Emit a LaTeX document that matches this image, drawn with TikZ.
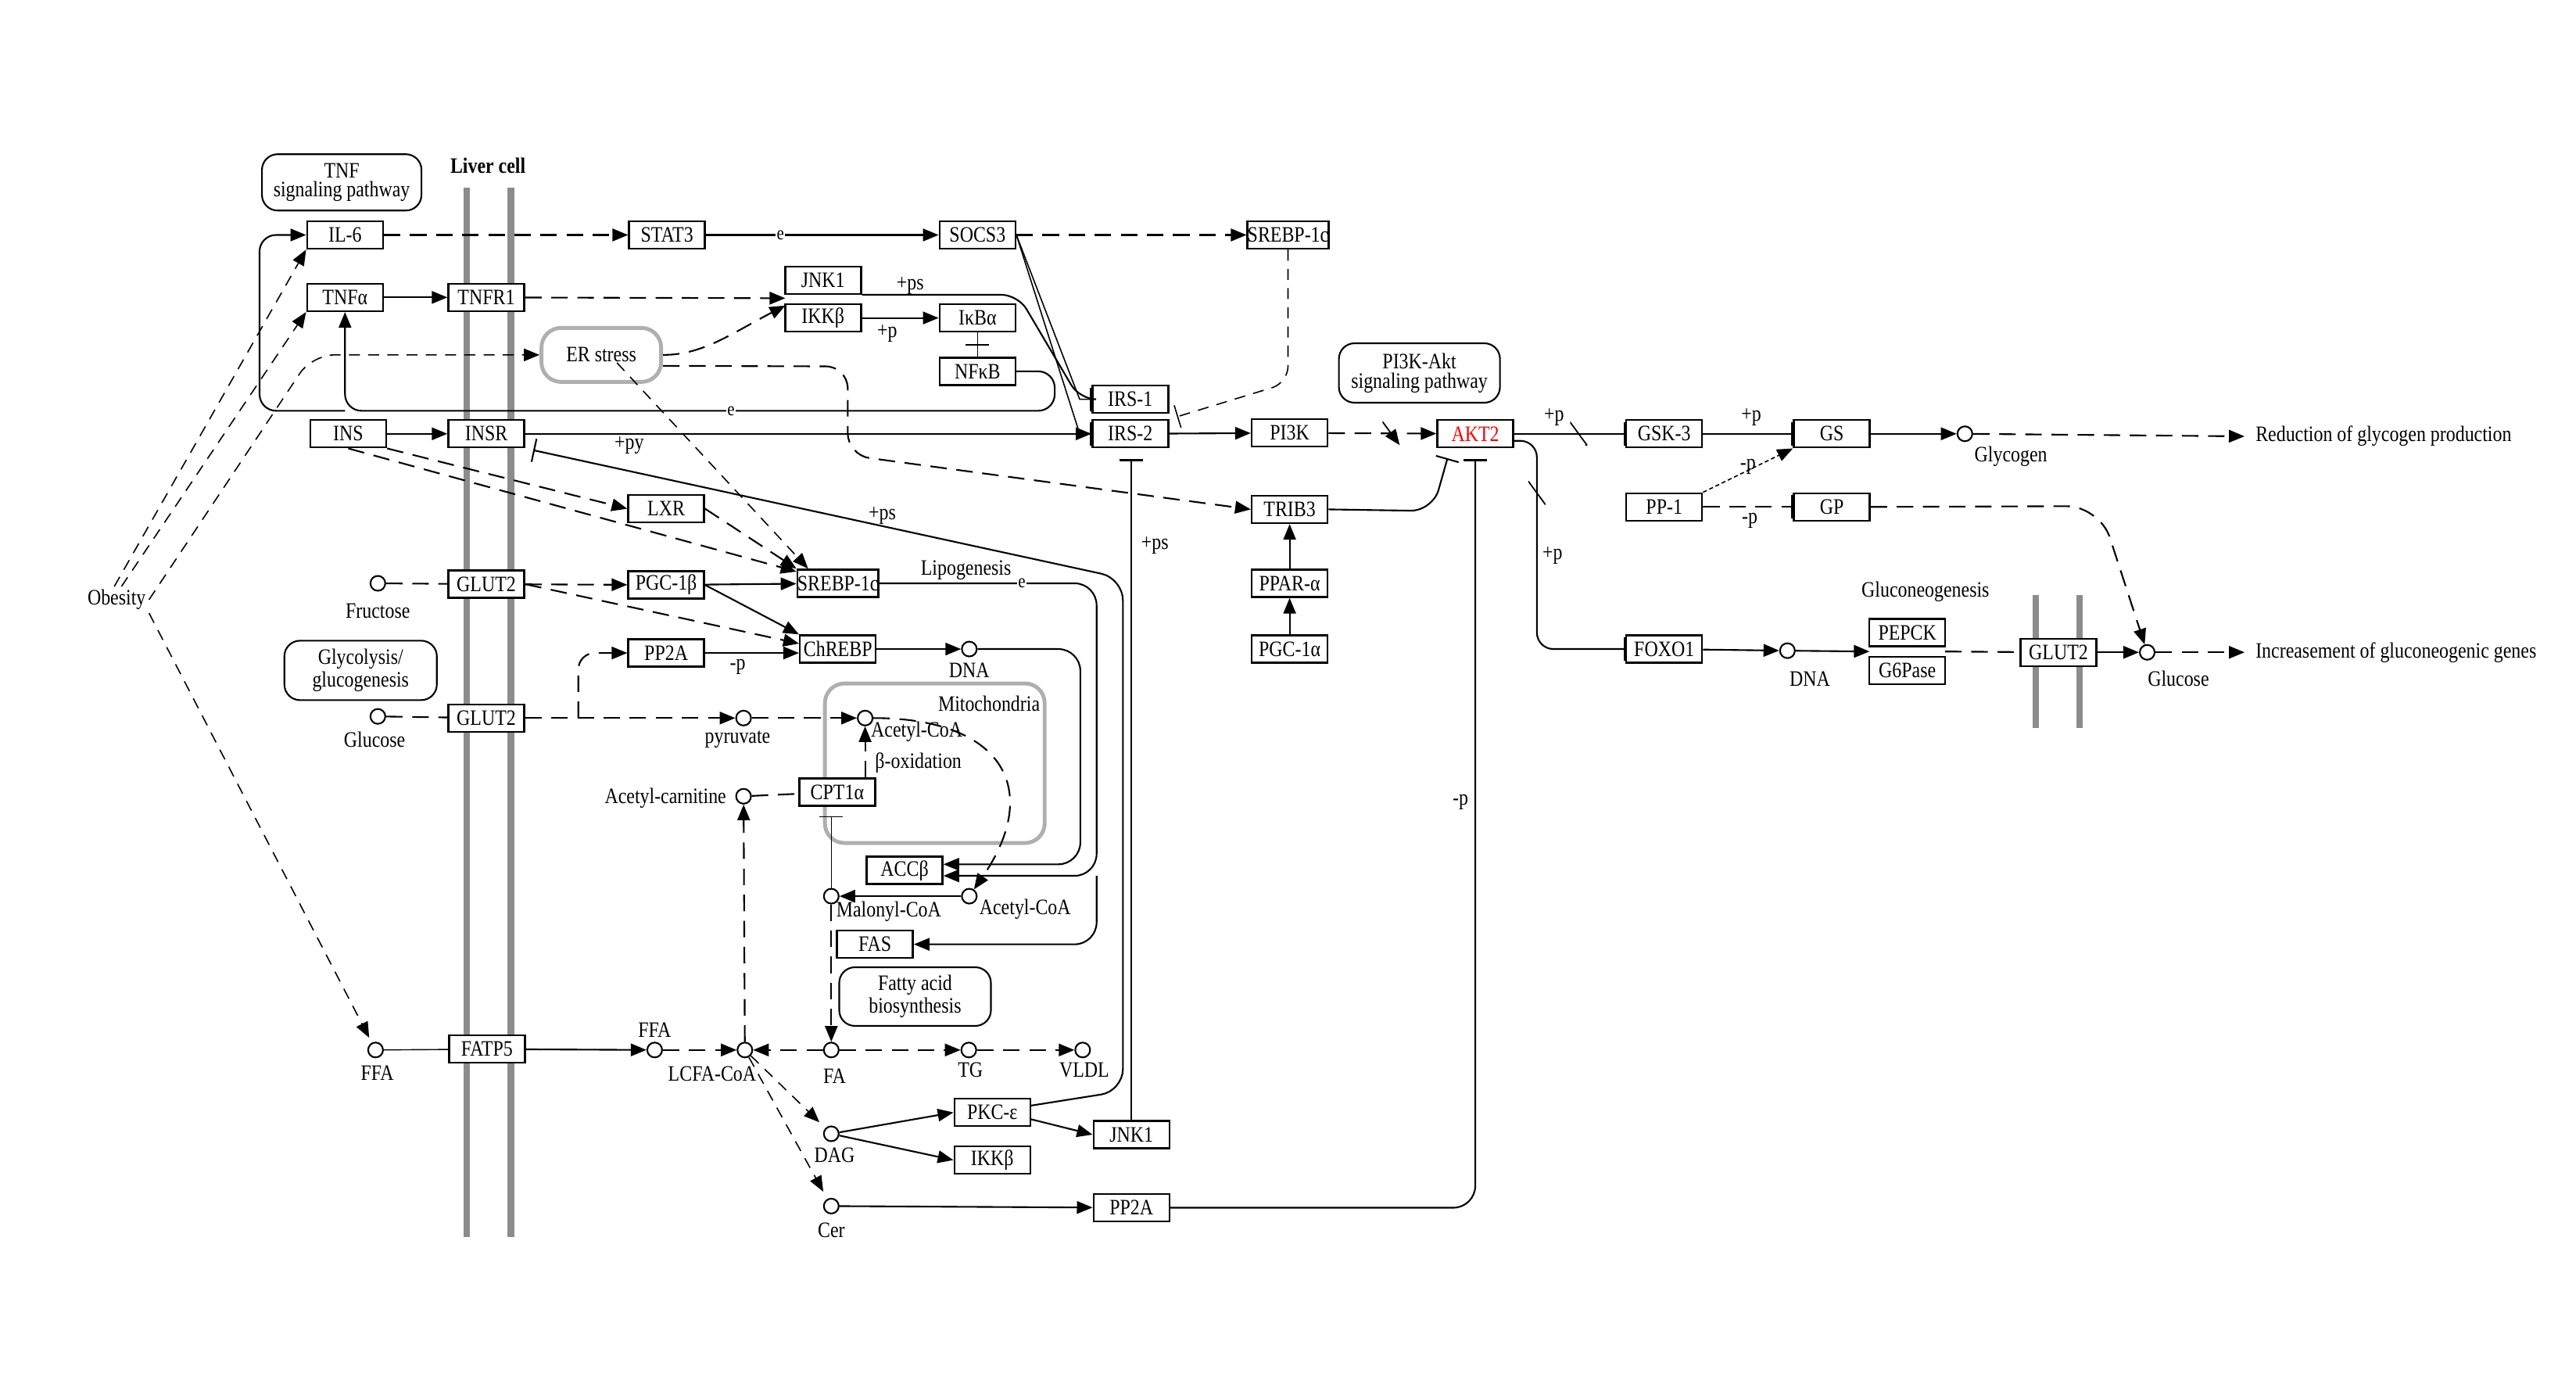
\documentclass[tikz,border=0pt]{standalone}
\usepackage{fontspec}
\setmainfont{Liberation Serif}[FakeStretch=0.85]
\usetikzlibrary{arrows.meta,calc}
\definecolor{kgray}{RGB}{140,140,140}
\definecolor{kbox}{RGB}{175,175,175}
\definecolor{kred}{RGB}{255,0,0}
\newcommand\kfont{\fontsize{8}{7}\selectfont}

\begin{document}
\begin{tikzpicture}[x=0.021014cm, y=-0.021014cm, font=\kfont,
  gene/.style={draw, fill=white, line width=0.7pt, minimum width=0.97cm, minimum height=0.35cm, inner sep=0pt},
  cpd/.style={circle, draw, fill=white, line width=0.6pt, minimum size=0.19cm, inner sep=0pt},
  pathbox/.style={draw, line width=0.6pt, rounded corners=0.2cm, align=center, inner sep=0pt},
  greybox/.style={draw=kbox, line width=1.4pt, rounded corners=0.25cm, inner sep=0pt},
  lbl/.style={inner sep=1pt},
  elbl/.style={inner sep=0.3pt, fill=white, font=\fontsize{7}{7}\selectfont},
  act/.style={-{Triangle[length=2mm,width=1.6mm]}, line width=0.6pt},
  inh/.style={-{Bar[width=3mm]}, line width=0.6pt},
  kdash/.style={dash pattern=on 6pt off 3.5pt},
  kdasht/.style={dash pattern=on 4pt off 3pt, line width=0.45pt},
  membrane/.style={draw=kgray, line width=2.3pt},
  slash/.style={minimum width=2.2mm, minimum height=3mm, inner sep=0pt,
    path picture={\draw[line width=0.5pt] (path picture bounding box.north west) -- (path picture bounding box.south east);}}
]
  \useasboundingbox (0,0) rectangle (1568,838);

  %% membranes
  \foreach \mx in {284,311} \draw[membrane] (\mx,114) -- (\mx,753);
  \foreach \mx in {1239,1266} \draw[membrane] (\mx,362) -- (\mx,443);
  \node[font=\kfont\bfseries] (liver) at (297,101) {Liver cell};

  %% pathway maps and compartments
  \node[pathbox, minimum width=2.04cm, minimum height=0.72cm] (tnfpw) at (208,111) {TNF\\signaling pathway};
  \node[pathbox, minimum width=2.06cm, minimum height=0.76cm] (pi3kpw) at (864,227) {PI3K-Akt\\signaling pathway};
  \node[pathbox, minimum width=1.95cm, minimum height=0.76cm] (glycpw) at (219.5,408) {Glycolysis/\\glucogenesis};
  \node[pathbox, minimum width=1.94cm, minimum height=0.75cm] (fapw) at (557,606.5) {Fatty acid\\biosynthesis};
  \node[greybox, minimum width=1.53cm, minimum height=0.69cm] (er) at (366,216) {ER stress};
  \node[greybox, minimum width=2.81cm, minimum height=2.04cm] (mito) at (569,464.5) {};
  \node[lbl] (mitolbl) at (602,428) {Mitochondria};

  %% genes, top part
  \node[gene] (il6) at (210,143) {IL-6};
  \node[gene] (stat3) at (406,143) {STAT3};
  \node[gene] (socs3) at (595,143) {SOCS3};
  \node[gene] (srebpa) at (784,143) {SREBP-1c};
  \node[gene] (tnfa) at (210,181) {TNFα};
  \node[gene] (tnfr1) at (296,181) {TNFR1};
  \node[gene] (jnka) at (501,170.5) {JNK1};
  \node[gene] (ikka) at (501,193.5) {IKKβ};
  \node[gene] (ikba) at (595,193.5) {IκBα};
  \node[gene] (nfkb) at (595,226) {NFκB};
  \node[gene] (irs1) at (688,243) {IRS-1};
  \node[gene] (irs2) at (688,264) {IRS-2};
  \node[gene] (pi3k) at (785,263.5) {PI3K};
  \node[gene, text=kred] (akt2) at (898,264) {AKT2};
  \node[gene] (gsk3) at (1013,264) {GSK-3};
  \node[gene] (gs) at (1115,264) {GS};
  \node[gene] (pp1) at (1013,308.5) {PP-1};
  \node[gene] (gp) at (1115,308.5) {GP};
  \node[gene] (ins) at (212,264) {INS};
  \node[gene] (insr) at (296,264) {INSR};
  \node[gene] (lxr) at (405.5,309.6) {LXR};
  \node[gene] (trib3) at (785,310) {TRIB3};
  \node[gene] (ppara) at (785,355) {PPAR-α};
  \node[gene] (pgc1a) at (785,395) {PGC-1α};
  \node[gene] (foxo1) at (1013,395) {FOXO1};
  \node[gene] (pepck) at (1161,385) {PEPCK};
  \node[gene] (g6pase) at (1161,408) {G6Pase};
  \node[gene] (glut2c) at (1253,397) {GLUT2};

  %% genes, liver metabolism
  \node[gene] (glut2a) at (296,355.5) {GLUT2};
  \node[gene] (pgc1b) at (405.5,356) {PGC-1β};
  \node[gene] (srebpb) at (510,355) {SREBP-1c};
  \node[gene] (pp2aa) at (405.5,397.4) {PP2A};
  \node[gene] (chrebp) at (510,395) {ChREBP};
  \node[gene] (glut2b) at (296,437) {GLUT2};
  \node[gene] (cpt1a) at (509.6,482) {CPT1α};
  \node[gene] (accb) at (550.6,529.7) {ACCβ};
  \node[gene] (fas) at (532.6,574.7) {FAS};
  \node[gene] (fatp5) at (296.4,638.5) {FATP5};
  \node[gene] (pkce) at (604,677) {PKC-ε};
  \node[gene] (ikkb) at (604,706) {IKKβ};
  \node[gene] (jnkb) at (688.7,690.5) {JNK1};
  \node[gene] (pp2ab) at (688.7,735) {PP2A};

  %% compounds
  \node[cpd] (glycogen) at (1196,264) {};
  \node[lbl] (glycogenl) at (1224,278) {Glycogen};
  \node[cpd] (fru) at (230,355) {};
  \node[lbl] (frul) at (230,372) {Fructose};
  \node[cpd] (dnaa) at (590,395) {};
  \node[lbl] (dnaal) at (590,408) {DNA};
  \node[cpd] (dnab) at (1088,396) {};
  \node[lbl] (dnabl) at (1101.6,413) {DNA};
  \node[cpd] (glcb) at (1307,397) {};
  \node[lbl] (glcbl) at (1326,413) {Glucose};
  \node[cpd] (glca) at (230,436) {};
  \node[lbl] (glcal) at (228,450) {Glucose};
  \node[cpd] (pyr) at (452.6,437) {};
  \node[lbl] (pyrl) at (449,450) {pyruvate};
  \node[cpd] (acoaa) at (526.6,437) {};
  \node[lbl] (acoaal) at (558,445.5) {Acetyl-CoA};
  \node[cpd] (acar) at (452.6,484.6) {};
  \node[lbl, anchor=east] (acarl) at (444,486) {Acetyl-carnitine};
  \node[cpd] (malcoa) at (506,545.4) {};
  \node[lbl] (malcoal) at (541,555) {Malonyl-CoA};
  \node[cpd] (acoab) at (590,545.4) {};
  \node[lbl] (acoabl) at (624,553.5) {Acetyl-CoA};
  \node[cpd] (ffaa) at (228.6,639) {};
  \node[lbl] (ffaal) at (229.7,653) {FFA};
  \node[cpd] (ffab) at (398.5,639) {};
  \node[lbl] (ffabl) at (398.5,627) {FFA};
  \node[cpd] (lcfa) at (453.4,639) {};
  \node[lbl] (lcfal) at (433.5,653.5) {LCFA-CoA};
  \node[cpd] (fa) at (506,639) {};
  \node[lbl] (fal) at (508,655) {FA};
  \node[cpd] (tg) at (589.7,639) {};
  \node[lbl] (tgl) at (590.7,651) {TG};
  \node[cpd] (vldl) at (659,639) {};
  \node[lbl] (vldll) at (660,651) {VLDL};
  \node[cpd] (dag) at (506,690) {};
  \node[lbl] (dagl) at (508,703) {DAG};
  \node[cpd] (cer) at (506,734) {};
  \node[lbl] (cerl) at (506,748.6) {Cer};

  \node[lbl] (obesity) at (71,365) {Obesity};
  \node[lbl, anchor=west] (redtxt) at (1371,265.6) {Reduction of glycogen production};
  \node[lbl, anchor=west] (inctxt) at (1371,397) {Increasement of gluconeogenic genes};

  %% bend points
  \coordinate (jkin) at (478,181.5);
  \coordinate (jkin2) at (478,186);
  \coordinate (loopr) at (642,250);
  \coordinate (loopl) at (158,250);
  \coordinate (erbend) at (190,216);
  \coordinate (ertr1) at (516,223);
  \coordinate (ertr2) at (516,277);
  \coordinate (psb) at (683.5,664);
  \coordinate (pst) at (683.5,352);
  \coordinate (srbend) at (784,233);
  \coordinate (tribend) at (872,311);
  \coordinate (foxbend) at (935.5,330);
  \coordinate (gpbend) at (1278,308);
  \coordinate (pgin) at (1138,396.5);
  \coordinate (pgout) at (1184,396.5);
  \coordinate (glbr) at (352,437);
  \coordinate (dnal) at (657.6,526);
  \coordinate (srl1) at (667.5,533);

  %% obesity
  \draw[act,kdasht] (obesity.100) -- (il6.south west);
  \draw[act,kdasht] (obesity.70) -- (tnfa.south west);
  \draw[act,kdasht,rounded corners=8pt] (obesity.east) -- (erbend) -- (er.west);
  \draw[act,kdasht,shorten >=2pt] (obesity.south east) -- (ffaa);

  %% cytokines
  \draw[act,kdash] (il6) -- (stat3);
  \draw[act] (stat3) -- (socs3);
  \node[elbl] (e1) at (475,143) {e};
  \draw[act,kdash] (socs3) -- (srebpa);
  \draw[inh,line width=0.45pt] (socs3.east) -- ([xshift=-0.15cm]irs1.west) -- (irs1.west);
  \draw[inh,line width=0.45pt] (socs3.east) -- ([xshift=-0.15cm]irs2.west) -- (irs2.west);
  \draw[act] (tnfa) -- (tnfr1);
  \draw[act,kdash] (tnfr1) -- (jkin);
  \draw[act,kdash] (er.east) .. controls (428,216) and (445,203) .. (jkin2);
  \draw[inh,rounded corners=6pt] (jnka.south east) -- ++(95,0) -- ([xshift=-0.15cm]irs1.west) -- (irs1.west);
  \node[lbl] (lps1) at (554,174) {+ps};
  \draw[act] (ikka) -- (ikba);
  \node[lbl] (lp1) at (540,203) {+p};
  \draw (ikba) -- node[fill, minimum width=0.3cm, minimum height=0.7pt, inner sep=0pt] (ikbbar) {} (nfkb);
  \draw[act,rounded corners=6pt] (nfkb.east) -| (loopr) -| (tnfa.south);
  \draw[act,rounded corners=6pt] (tnfa.south |- loopr) -- (loopl) |- (il6.west);
  \node[elbl] (e2) at (445,250) {e};

  %% insulin signalling
  \draw[act] (ins) -- (insr);
  \draw[act] (insr) -- (irs2);
  \node[lbl] (lpy) at (383,271) {+py};
  \draw[act,kdash] (ins.south east) -- (lxr.west);
  \draw[act,kdash] (ins.south) -- ([yshift=1.5mm]srebpb.west);
  \draw[inh,rounded corners=8pt,shorten >=3pt] (pkce.10) -- (psb) -- (pst) -- (insr.south east);
  \node[lbl] (lps2) at (537,314) {+ps};
  \draw[inh,shorten >=1.4mm] (jnkb.north) -- (jnkb.north |- irs2.south);
  \node[lbl] (lps3) at (703,332) {+ps};
  \draw[act] (irs2) -- (pi3k);
  \draw[inh,kdasht,rounded corners=6pt,shorten >=3pt] (srebpa.south) -- (srbend) -- (irs2.north east);
  \draw[act,kdash] (pi3k) -- node[slash,pos=0.58] (sl1) {} (akt2);
  \draw[act,kdash,rounded corners=8pt] ([yshift=-1.4mm]er.east) -- (ertr1) -- (ertr2) -- (trib3.west);
  \draw[act] (pgc1a) -- (ppara);
  \draw[act] (ppara) -- (trib3);
  \draw[inh,rounded corners=8pt,shorten >=1.3mm] (trib3.east) -- (tribend) -- ([xshift=-3.2mm]akt2.south);
  \draw[inh,rounded corners=8pt,shorten >=1.4mm] (pp2ab.east) -| (akt2.south);
  \node[lbl] (lmp2) at (889,488) {-p};

  %% AKT2 targets
  \draw[inh] (akt2) -- node[slash,pos=0.58] (sl2) {} (gsk3);
  \node[lbl] (lp2) at (946,254) {+p};
  \draw[inh] (gsk3) -- (gs);
  \node[lbl] (lp3) at (1066,254) {+p};
  \draw[act] (gs) -- (glycogen);
  \draw[act,kdash,shorten >=1mm] (glycogen) -- (redtxt.west);
  \draw[act,line width=0.45pt,dash pattern=on 1.5pt off 1pt] (pp1.north east) -- (gs.south west);
  \node[lbl] (lmp3) at (1064,284) {-p};
  \draw[inh,kdash] (pp1) -- (gp);
  \node[lbl] (lmp4) at (1065,317) {-p};
  \draw[act,kdash,rounded corners=12pt] (gp.east) -- (gpbend) -- (glcb);
  \draw[inh,rounded corners=6pt] ([yshift=-0.9mm]akt2.east) -| (foxbend) |- (foxo1.west);
  \node[slash] (sl3) at (935.5,300) {};
  \node[lbl] (lp4) at (945,338) {+p};
  \draw[act] (foxo1) -- (dnab);
  \draw[act] (dnab) -- (pgin);
  \draw[kdash,line width=0.6pt] (pgout) -- (glut2c);
  \draw[act] (glut2c) -- (glcb);
  \draw[act,kdash,shorten >=1mm] (glcb) -- (inctxt.west);
  \node[lbl] (lgng) at (1172,360) {Gluconeogenesis};

  %% lipogenesis
  \draw[kdash,line width=0.6pt] (fru) -- (glut2a);
  \draw[act,kdash] (glut2a) -- (pgc1b);
  \draw[act,kdash] (glut2a.east) -- ([yshift=2pt]chrebp.west);
  \draw[act] (pgc1b) -- (srebpb);
  \draw[act] (pgc1b.east) -- (chrebp.north west);
  \draw[act,kdash] (lxr.east) -- (srebpb.north west);
  \draw[act,kdasht] ([xshift=2mm,yshift=-1mm]er.center) -- ([xshift=1.5mm]srebpb.north west);
  \draw[act] (pp2aa.east) -- (pp2aa.east -| chrebp.west);
  \node[lbl] (lmp1) at (449,406) {-p};
  \node[lbl] (llipo) at (588,347) {Lipogenesis};
  \draw[act,rounded corners=8pt] (srebpb.east) -| (srl1) -- (accb.east |- srl1);
  \draw[act,rounded corners=8pt] (srl1) |- (fas.east);
  \node[elbl] (e3) at (622,355) {e};
  \draw[act] (chrebp) -- (dnaa);
  \draw[act,rounded corners=8pt] (dnaa) -| (dnal) -- (accb.east |- dnal);

  %% glucose and fatty acids
  \draw[kdash,line width=0.6pt] (glca) -- (glut2b);
  \draw[act,kdash] (glut2b) -- (pyr);
  \draw[act,kdash,rounded corners=6pt] (glbr) |- (pp2aa.west);
  \draw[act,kdash] (pyr) -- (acoaa);
  \draw[act,kdash] (acoaa) .. controls (610,437) and (635,480) .. (acoab);
  \node[lbl] (lbox) at (559,464.5) {β-oxidation};
  \draw[act,kdash] (cpt1a.north -| acoaa) -- (acoaa);
  \draw[kdash,line width=0.6pt] (acar) -- (cpt1a);
  \draw[act,kdash] (lcfa) -- (acar);
  \draw[inh,line width=0.45pt,shorten >=1.2mm] (malcoa) -- (cpt1a.south -| malcoa);
  \draw[act] (acoab) -- (malcoa);
  \draw[act,kdash] (malcoa) -- (fa);
  \draw (ffaa) -- (fatp5);
  \draw[act] (fatp5) -- (ffab);
  \draw[act,kdash] (ffab) -- (lcfa);
  \draw[act,kdash] (fa) -- (lcfa);
  \draw[act,kdash] (fa) -- (tg);
  \draw[act,kdash] (tg) -- (vldl);
  \draw[act,kdasht,shorten >=3pt] (lcfa) -- (dag);
  \draw[act,kdasht,shorten >=3pt] (lcfa) -- (cer);
  \draw[act] (dag) -- (pkce.west);
  \draw[act] (dag) -- (ikkb.west);
  \draw[act] (pkce.-10) -- (jnkb.west);
  \draw[act] (cer) -- (pp2ab);
\end{tikzpicture}
\end{document}
